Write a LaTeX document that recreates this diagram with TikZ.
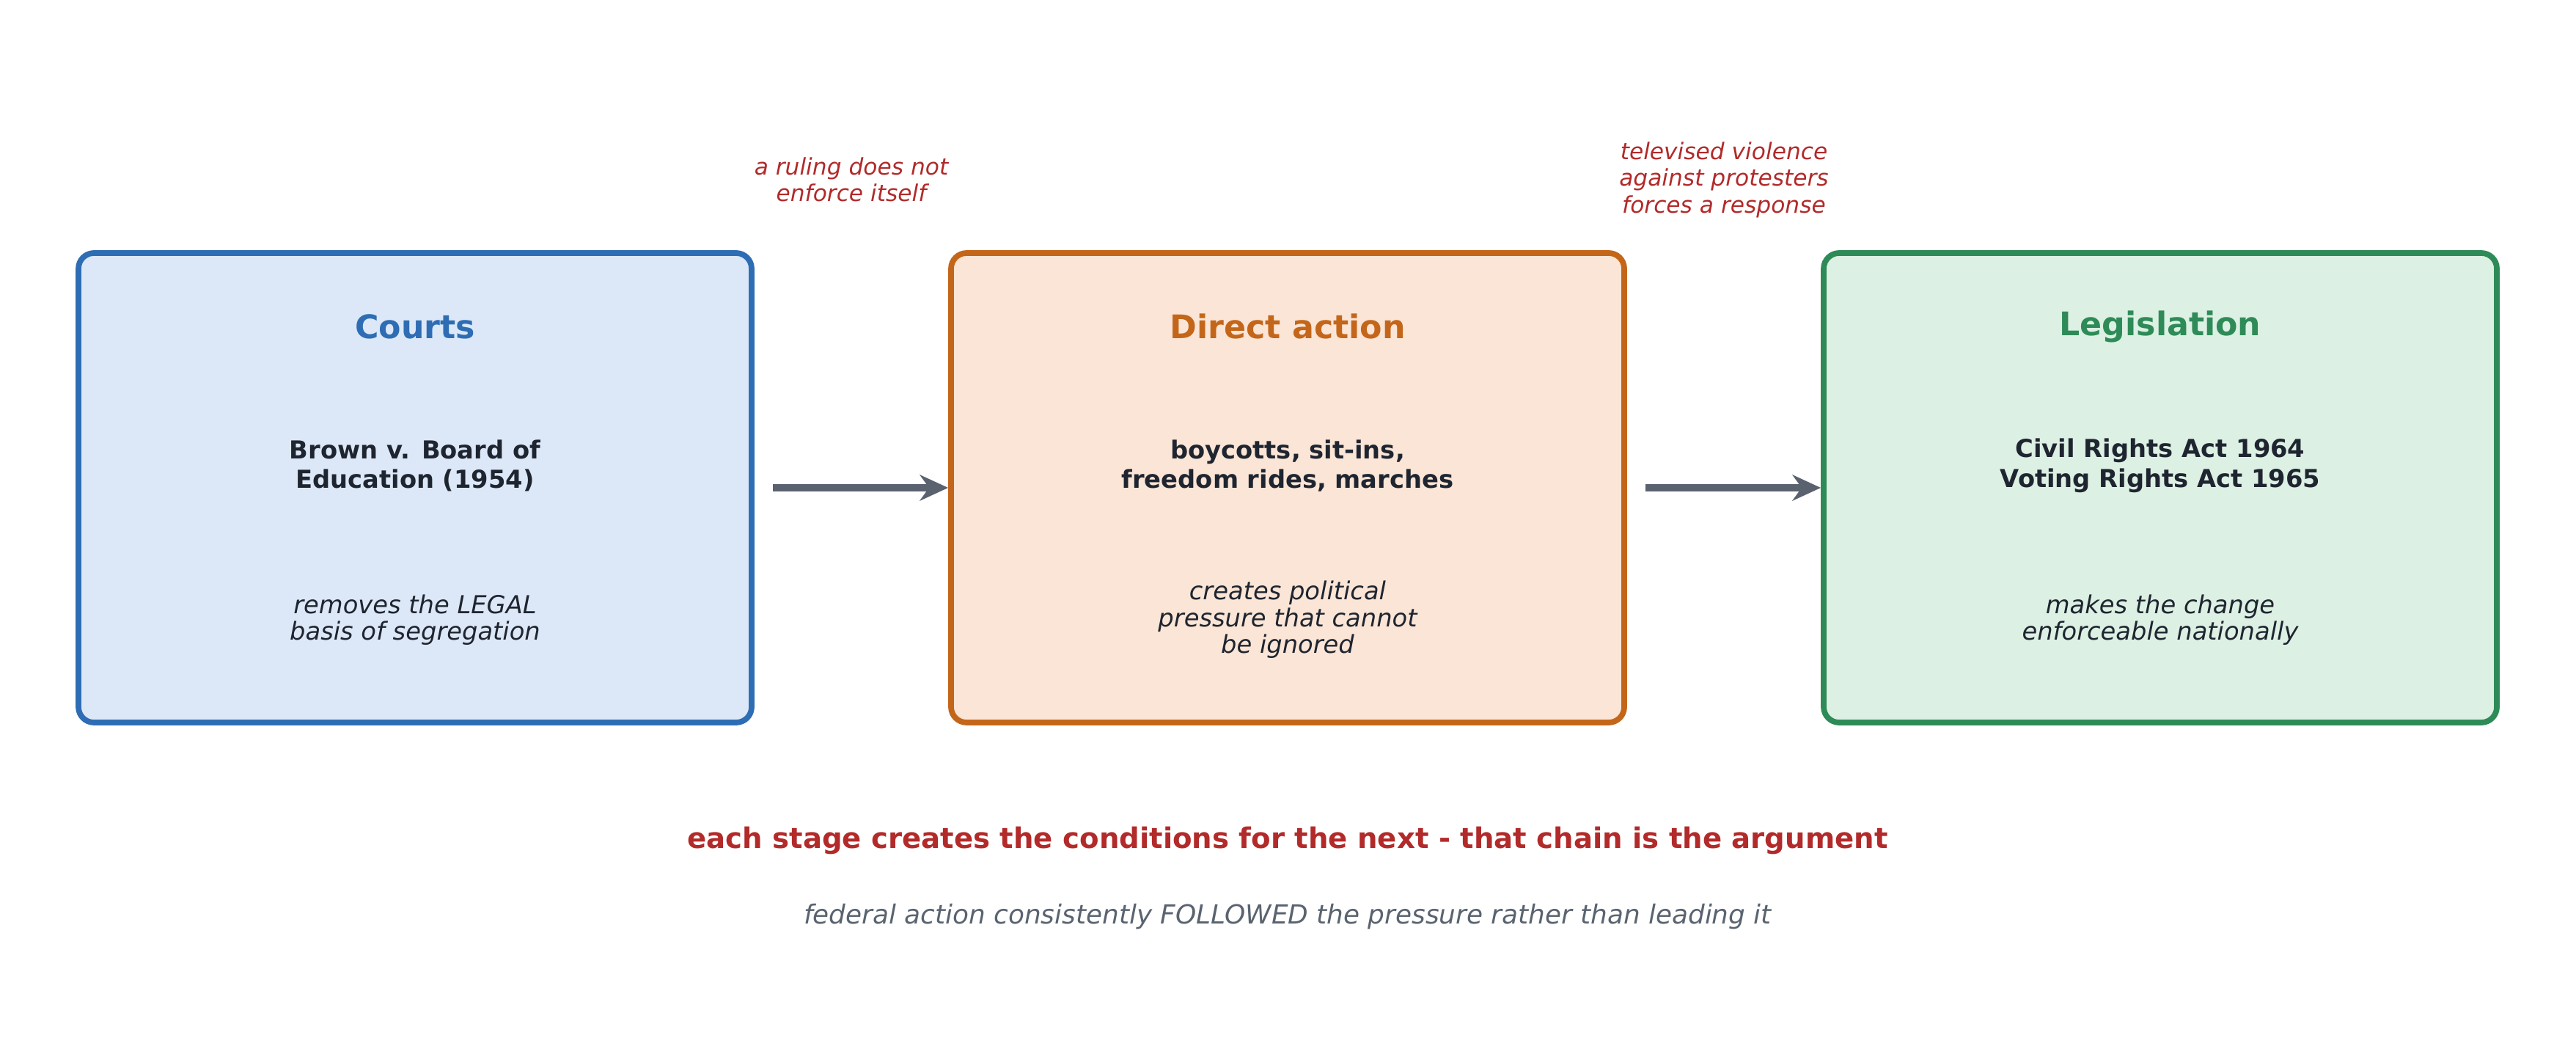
\documentclass[tikz,border=0pt]{standalone}
\usepackage{fontspec}
\setmainfont{DejaVu Sans}
\usetikzlibrary{arrows.meta,positioning}

\definecolor{courtline}{HTML}{2E6DB4}
\definecolor{courtfill}{HTML}{DCE8F7}
\definecolor{actline}{HTML}{C4661A}
\definecolor{actfill}{HTML}{FAE5D6}
\definecolor{lawline}{HTML}{2E8B57}
\definecolor{lawfill}{HTML}{DCF0E3}
\definecolor{textdark}{HTML}{1F2530}
\definecolor{notered}{HTML}{B22A2A}
\definecolor{notegrey}{HTML}{5A6470}
\definecolor{arrowgrey}{HTML}{5A6270}

\tikzset{
  stage/.style={draw=#1line, fill=#1fill, line width=2.2pt, rounded corners=6pt,
    minimum width=9.18cm, minimum height=6.4cm},
  head/.style={font=\fontsize{12.6}{15}\selectfont\bfseries, text=#1},
  body/.style={font=\fontsize{9.6}{11.6}\selectfont\bfseries, text=textdark, align=center},
  effect/.style={font=\fontsize{9.6}{10.4}\selectfont\itshape, text=textdark, align=center},
  link/.style={-{Stealth[length=11pt,width=10pt]}, line width=2.6pt, draw=arrowgrey},
  note/.style={font=\fontsize{8.9}{10.4}\selectfont\itshape, text=notered, align=center}
}

\begin{document}
\begin{tikzpicture}
  \useasboundingbox (0,0) rectangle (35.13,14.40);

  % three stages
  \node[stage=court] (courts) at (5.66,7.75) {};
  \node[stage=act]   (action) at (17.56,7.75) {};
  \node[stage=law]   (laws)   at (29.46,7.75) {};

  \node[head=courtline] at (5.66,9.95) {Courts};
  \node[body] at (5.66,8.05) {Brown v. Board of\\Education (1954)};
  \node[effect] at (5.66,5.95) {removes the LEGAL\\basis of segregation};

  \node[head=actline] at (17.56,9.95) {Direct action};
  \node[body] at (17.56,8.05) {boycotts, sit-ins,\\freedom rides, marches};
  \node[effect] at (17.56,5.95) {creates political\\pressure that cannot\\be ignored};

  \node[head=lawline] at (29.46,9.95) {Legislation};
  \node[body] at (29.46,8.05) {Civil Rights Act 1964\\Voting Rights Act 1965};
  \node[effect] at (29.46,5.95) {makes the change\\enforceable nationally};

  % connectors
  \draw[link] ([xshift=0.25cm]courts.east) -- (action.west);
  \draw[link] ([xshift=0.25cm]action.east) -- (laws.west);

  \node[note] at (11.61,11.95) {a ruling does not\\enforce itself};
  \node[note] at (23.51,11.95) {televised violence\\against protesters\\forces a response};

  % summary lines
  \node[font=\fontsize{11}{13}\selectfont\bfseries, text=notered] at (17.56,2.94)
    {each stage creates the conditions for the next - that chain is the argument};
  \node[font=\fontsize{10.2}{12}\selectfont\itshape, text=notegrey] at (17.56,1.90)
    {federal action consistently FOLLOWED the pressure rather than leading it};
\end{tikzpicture}
\end{document}
